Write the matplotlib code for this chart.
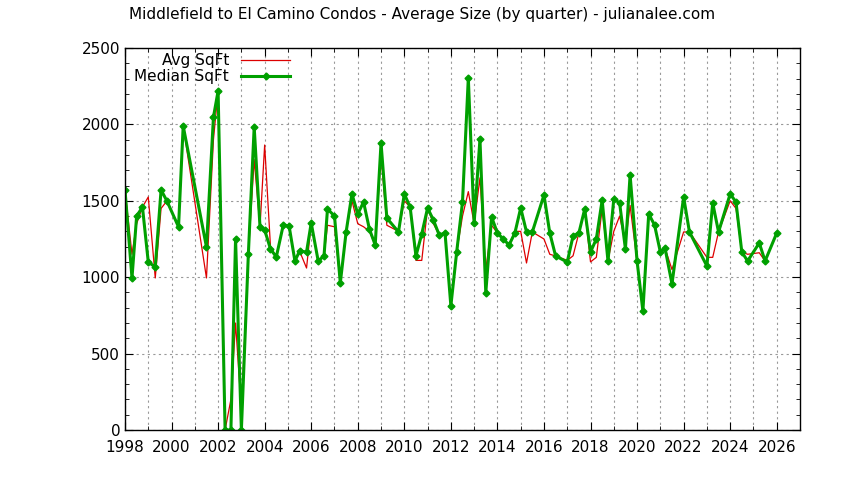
import matplotlib
matplotlib.use("Agg")
import matplotlib.pyplot as plt

years = [1998.0,1998.3,1998.5,1998.75,1999.0,1999.3,1999.55,1999.8,2000.3,2000.5,2001.5,2001.8,2002.0,2002.3,2002.55,2002.75,2003.0,2003.3,2003.55,2003.8,2004.0,2004.25,2004.5,2004.8,2005.05,2005.3,2005.5,2005.8,2006.0,2006.3,2006.55,2006.7,2007.0,2007.25,2007.5,2007.75,2008.0,2008.25,2008.5,2008.75,2009.0,2009.25,2009.75,2010.0,2010.25,2010.5,2010.75,2011.0,2011.25,2011.5,2011.75,2012.0,2012.25,2012.5,2012.75,2013.0,2013.25,2013.5,2013.75,2014.0,2014.25,2014.5,2014.75,2015.0,2015.25,2015.5,2016.0,2016.25,2016.5,2017.0,2017.25,2017.5,2017.75,2018.0,2018.25,2018.5,2018.75,2019.0,2019.25,2019.5,2019.7,2020.0,2020.25,2020.5,2020.75,2021.0,2021.2,2021.5,2022.0,2022.25,2023.0,2023.25,2023.5,2024.0,2024.25,2024.5,2024.75,2025.25,2025.5,2026.0]
median_sqft = [1571,995,1400,1459,1099,1067,1571,1499,1329,1990,1198,2048,2219,0,0,1250,0,1152,1983,1329,1309,1185,1132,1342,1335,1106,1171,1165,1355,1106,1139,1446,1401,962,1296,1545,1414,1492,1315,1211,1878,1387,1296,1545,1459,1139,1283,1453,1374,1276,1289,812,1165,1492,2304,1355,1904,897,1394,1289,1250,1211,1289,1453,1296,1296,1538,1289,1139,1099,1270,1289,1446,1165,1250,1505,1106,1512,1486,1185,1669,1106,779,1414,1342,1165,1191,956,1525,1296,1073,1486,1296,1545,1492,1165,1106,1224,1106,1289]
avg_sqft = [1571,1150,1350,1459,1525,995,1450,1499,1329,1990,995,1900,2219,0,200,700,130,1150,1770,1330,1865,1200,1132,1342,1335,1106,1171,1060,1355,1106,1139,1340,1330,962,1300,1500,1350,1330,1300,1211,1800,1340,1300,1500,1459,1110,1110,1453,1350,1276,1289,812,1165,1400,1560,1350,1650,1050,1340,1289,1250,1211,1300,1300,1093,1296,1250,1150,1139,1110,1140,1289,1446,1100,1130,1450,1106,1300,1400,1220,1470,1100,779,1414,1342,1165,1191,1050,1296,1296,1130,1130,1296,1500,1450,1165,1150,1160,1106,1289]

fig = plt.figure(figsize=(8.44, 4.8), dpi=100)
ax = fig.add_axes([125/844, 50/480, 675/844, 382/480])
ax.plot(years, avg_sqft, color="#dd0000", lw=0.9, label="Avg SqFt")
ax.plot(years, median_sqft, color="#00a000", lw=2.2, marker="D", ms=3.5, label="Median SqFt")
ax.set_xlim(1998, 2027)
ax.set_ylim(0, 2500)
ax.set_xticks(range(1998, 2027, 2))
ax.set_yticks(range(0, 2501, 500))
ax.set_yticks(range(0, 2501, 100), minor=True)
ax.set_xticks([x + 1 for x in range(1998, 2026, 2)], minor=True)
ax.tick_params(axis="both", which="both", direction="in", top=True, right=True, labelsize=11)
ax.tick_params(which="major", length=6)
ax.tick_params(which="minor", length=3)
ax.tick_params(axis="x", pad=7)
ax.grid(True, which="major", color="#999999", linestyle=(0, (2, 3)), lw=0.8)
ax.grid(True, which="minor", axis="x", color="#999999", linestyle=(0, (2, 3)), lw=0.8)
for s in ax.spines.values():
    s.set_linewidth(1.0)
leg = ax.legend(loc="upper left", frameon=False, markerfirst=False, fontsize=11,
                handlelength=3.2, borderpad=0.1, labelspacing=0.05, bbox_to_anchor=(0.0, 1.01))
for t in leg.get_texts():
    t.set_ha("right")
leg._legend_box.align = "right"
fig.text(0.5, 0.985, "Middlefield to El Camino Condos - Average Size (by quarter) - julianalee.com",
         ha="center", va="top", fontsize=11)
fig.savefig("out.png", dpi=100)
